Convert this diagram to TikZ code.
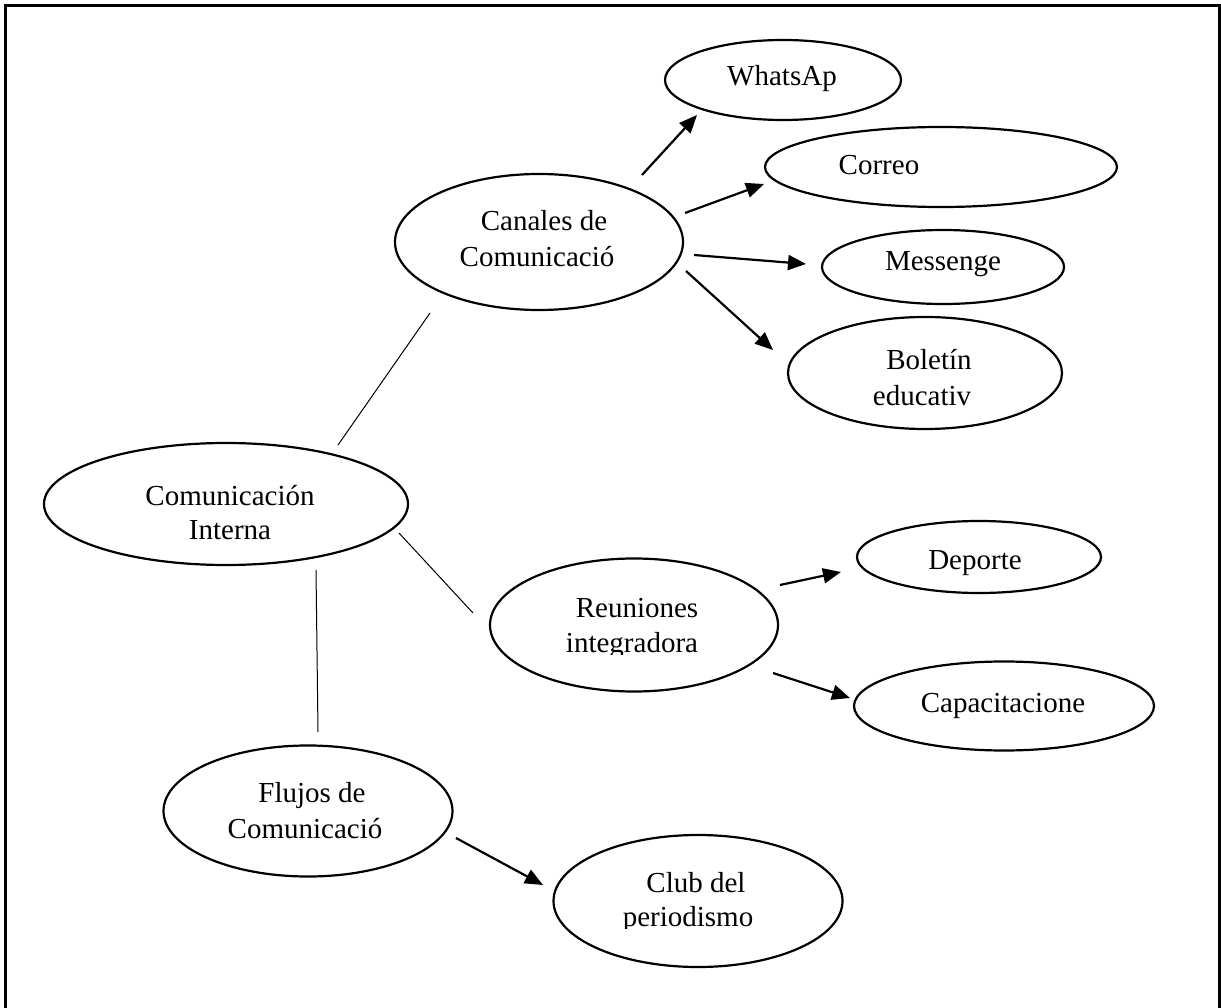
\documentclass[tikz,border=0pt]{standalone}
\usepackage{fontspec}
\setmainfont{Liberation Serif}
\usetikzlibrary{arrows.meta,shapes.geometric}
\begin{document}
\begin{tikzpicture}[x=1pt,y=-1pt,
  ell/.style={draw,ellipse,line width=2.2pt,inner sep=0pt},
  txt/.style={anchor=base,inner sep=0pt,font=\fontsize{29}{35}\selectfont},
  thin/.style={line width=1pt},
  arr/.style={line width=2.2pt,-{Triangle[length=18pt,width=15pt]}}]
\useasboundingbox (0,0) rectangle (1221,1008);
\draw[line width=3pt] (5,1020) -- (5,6) -- (1219,6) -- (1219,1020);
% ellipses
\node[ell,minimum width=236pt,minimum height=80pt] (wa) at (783,80) {};
\node[ell,minimum width=352pt,minimum height=80pt] (co) at (941,167) {};
\node[ell,minimum width=242pt,minimum height=74pt] (me) at (943,267) {};
\node[ell,minimum width=274pt,minimum height=112pt] (bo) at (925,373) {};
\node[ell,minimum width=288pt,minimum height=136pt] (ca) at (539,242) {};
\node[ell,minimum width=364pt,minimum height=122pt] (ci) at (226,504) {};
\node[ell,minimum width=288pt,minimum height=133pt] (re) at (634,625) {};
\node[ell,minimum width=244pt,minimum height=72pt] (de) at (979,557) {};
\node[ell,minimum width=300pt,minimum height=89pt] (cp) at (1004,706) {};
\node[ell,minimum width=289pt,minimum height=131pt] (fl) at (308,811) {};
\node[ell,minimum width=289pt,minimum height=132pt] (cl) at (698,901) {};
% texts
\node[txt] (wa-t) at (782,86) {WhatsAp};
\node[txt] (co-t) at (879,175) {Correo};
\node[txt] (me-t) at (943,271) {Messenge};
\node[txt] (bo-t1) at (929,369) {Boletín};
\begin{scope}
  \clip (850,380) rectangle (1000,408);
  \node[txt] (bo-t2) at (922,405) {educativ};
\end{scope}
\node[txt] (ca-t1) at (544,231) {Canales de};
\node[txt] (ca-t2) at (537,267) {Comunicació};
\node[txt] (ci-t1) at (230,505) {Comunicación};
\node[txt] (ci-t2) at (230,539) {Interna};
\node[txt] (re-t1) at (637,617) {Reuniones};
\begin{scope}
  \clip (540,625) rectangle (730,654);
  \node[txt] (re-t2) at (632,652) {integradora};
\end{scope}
\node[txt] (de-t) at (975,569) {Deporte};
\node[txt] (cp-t) at (1003,712) {Capacitacione};
\node[txt] (fl-t1) at (312,802) {Flujos de};
\node[txt] (fl-t2) at (305,838) {Comunicació};
\node[txt] (cl-t1) at (696,892) {Club del};
\begin{scope}
  \clip (600,900) rectangle (790,928);
  \node[txt] (cl-t2) at (688,926) {periodismo};
\end{scope}
% connector ends
\coordinate (ca-wa) at (642,175);
\coordinate (wa-in) at (697,115);
\coordinate (ca-co) at (685,213);
\coordinate (co-in) at (764,184);
\coordinate (ca-me) at (694,255);
\coordinate (me-in) at (806,264);
\coordinate (ca-bo) at (686,271);
\coordinate (bo-in) at (773,350);
\coordinate (ci-ca) at (338,445);
\coordinate (ca-ci) at (430,313);
\coordinate (ci-re) at (399,533);
\coordinate (re-ci) at (473,613);
\coordinate (ci-fl) at (316,570);
\coordinate (fl-ci) at (318,732);
\coordinate (re-de) at (780,585);
\coordinate (de-in) at (841,572);
\coordinate (re-cp) at (773,673);
\coordinate (cp-in) at (850,698);
\coordinate (fl-cl) at (456,838);
\coordinate (cl-in) at (543,885);
% connectors
\draw[arr] (ca-wa) -- (wa-in);
\draw[arr] (ca-co) -- (co-in);
\draw[arr] (ca-me) -- (me-in);
\draw[arr] (ca-bo) -- (bo-in);
\draw[thin] (ci-ca) -- (ca-ci);
\draw[thin] (ci-re) -- (re-ci);
\draw[thin] (ci-fl) -- (fl-ci);
\draw[arr] (re-de) -- (de-in);
\draw[arr] (re-cp) -- (cp-in);
\draw[arr] (fl-cl) -- (cl-in);
\end{tikzpicture}
\end{document}
